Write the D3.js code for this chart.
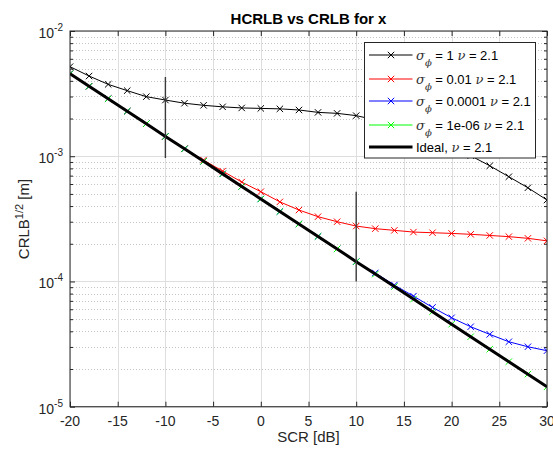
<!DOCTYPE html>
<html>
<head>
<meta charset="utf-8">
<script src="https://cdn.jsdelivr.net/npm/d3@7"></script>
<style>
  html, body { margin: 0; padding: 0; background: #fff; }
  svg { display: block; font-family: "Liberation Sans", Arial, Helvetica, sans-serif; }
</style>
</head>
<body>
<svg id="chart" width="553" height="452"></svg>
<script>
// ---------------- data ----------------
const scr = [-20,-18,-16,-14,-12,-10,-8,-6,-4,-2,0,2,4,6,8,10,12,14,16,18,20,22,24,26,28,30];

const sigma1 = [5.19e-3,4.37e-3,3.75e-3,3.34e-3,2.99e-3,2.81e-3,2.65e-3,2.55e-3,2.48e-3,2.43e-3,2.41e-3,2.39e-3,2.34e-3,2.24e-3,2.20e-3,2.11e-3,1.95e-3,1.79e-3,1.62e-3,1.41e-3,1.21e-3,1.01e-3,8.39e-4,6.86e-4,5.60e-4,4.47e-4];

const sigma001 = [4.56e-3,3.62e-3,2.88e-3,2.29e-3,1.82e-3,1.44e-3,1.15e-3,9.32e-4,7.61e-4,6.22e-4,5.21e-4,4.32e-4,3.72e-4,3.29e-4,3.00e-4,2.77e-4,2.64e-4,2.56e-4,2.48e-4,2.45e-4,2.42e-4,2.38e-4,2.33e-4,2.28e-4,2.21e-4,2.11e-4];

const sigma00001 = [4.56e-3,3.62e-3,2.88e-3,2.29e-3,1.82e-3,1.44e-3,1.145e-3,9.1e-4,7.23e-4,5.74e-4,4.56e-4,3.62e-4,2.88e-4,2.29e-4,1.82e-4,1.44e-4,1.17e-4,9.36e-5,7.64e-5,6.21e-5,5.13e-5,4.35e-5,3.78e-5,3.30e-5,3.01e-5,2.80e-5];

const sigma1e6 = [4.56e-3,3.62e-3,2.88e-3,2.29e-3,1.82e-3,1.44e-3,1.145e-3,9.1e-4,7.23e-4,5.74e-4,4.56e-4,3.62e-4,2.88e-4,2.29e-4,1.82e-4,1.44e-4,1.145e-4,9.1e-5,7.23e-5,5.74e-5,4.56e-5,3.62e-5,2.88e-5,2.29e-5,1.82e-5,1.44e-5];

const ideal = [4.56e-3,3.62e-3,2.88e-3,2.29e-3,1.82e-3,1.44e-3,1.145e-3,9.1e-4,7.23e-4,5.74e-4,4.56e-4,3.62e-4,2.88e-4,2.29e-4,1.82e-4,1.44e-4,1.145e-4,9.1e-5,7.23e-5,5.74e-5,4.56e-5,3.62e-5,2.88e-5,2.29e-5,1.82e-5,1.44e-5];

// vertical marker segments: [x, yLow, yHigh]
const vLines = [[-10, 9.7e-4, 4.3e-3], [10, 1.0e-4, 5.2e-4]];

const sigmaLabels = ["1", "0.01", "0.0001", "1e-06"];
const nuLabel = "2.1";
const seriesColors = ["#000000", "#ff0000", "#0000ff", "#00ff00"];

const xTicks = [-20,-15,-10,-5,0,5,10,15,20,25,30];
const yMajor = [1e-5,1e-4,1e-3,1e-2];
const yExp = [-5,-4,-3,-2];

const titleText = "HCRLB vs CRLB for x";
const xLabel = "SCR [dB]";

// ---------------- layout ----------------
const L = 70, R = 547, T = 31, B = 406.7;
const axisColor = "#262626";

const svg = d3.select("#chart");
const x = d3.scaleLinear().domain([-20, 30]).range([L, R]);
const y = d3.scaleLog().domain([1e-5, 1e-2]).range([B, T]);

const yMinor = [];
for (let e = -5; e < -2; e++) for (let k = 2; k <= 9; k++) yMinor.push(k * Math.pow(10, e));

svg.append("rect").attr("x", 0).attr("y", 0).attr("width", 553).attr("height", 452).attr("fill", "#fff");

// grid
const grid = svg.append("g");
grid.selectAll(".gym").data(yMinor).join("line")
  .attr("x1", L).attr("x2", R)
  .attr("y1", d => Math.round(y(d)) + 0.5).attr("y2", d => Math.round(y(d)) + 0.5)
  .attr("stroke", "#c4c4c4").attr("stroke-width", 1).attr("stroke-dasharray", "1,2");
grid.selectAll(".gx").data(xTicks).join("line")
  .attr("x1", d => Math.round(x(d)) + 0.5).attr("x2", d => Math.round(x(d)) + 0.5)
  .attr("y1", T).attr("y2", B)
  .attr("stroke", "#dedede").attr("stroke-width", 1);
grid.selectAll(".gyM").data(yMajor).join("line")
  .attr("x1", L).attr("x2", R)
  .attr("y1", d => Math.round(y(d)) + 0.5).attr("y2", d => Math.round(y(d)) + 0.5)
  .attr("stroke", "#dedede").attr("stroke-width", 1);

// axes (inward ticks)
function styleAxis(g) {
  g.select(".domain").remove();
  g.selectAll(".tick line").attr("stroke", axisColor);
  g.selectAll(".tick text").remove();
}
svg.append("g").attr("transform", `translate(0,${B})`)
  .call(d3.axisBottom(x).tickValues(xTicks).tickSize(-5).tickFormat("")).call(styleAxis);
svg.append("g").attr("transform", `translate(0,${T})`)
  .call(d3.axisTop(x).tickValues(xTicks).tickSize(-5).tickFormat("")).call(styleAxis);
svg.append("g").attr("transform", `translate(${L},0)`)
  .call(d3.axisLeft(y).tickValues(yMajor).tickSize(-5).tickFormat("")).call(styleAxis);
svg.append("g").attr("transform", `translate(${L},0)`)
  .call(d3.axisLeft(y).tickValues(yMinor).tickSize(-3).tickFormat("")).call(styleAxis);
svg.append("g").attr("transform", `translate(${R},0)`)
  .call(d3.axisRight(y).tickValues(yMajor).tickSize(-5).tickFormat("")).call(styleAxis);
svg.append("g").attr("transform", `translate(${R},0)`)
  .call(d3.axisRight(y).tickValues(yMinor).tickSize(-3).tickFormat("")).call(styleAxis);

// tick labels
svg.append("g").selectAll("text").data(xTicks).join("text")
  .attr("x", d => x(d)).attr("y", 426)
  .attr("text-anchor", "middle").attr("font-size", 14).attr("fill", axisColor)
  .text(d => d);
const yl = svg.append("g").selectAll("text").data(yMajor).join("text")
  .attr("x", 63).attr("y", d => y(d) + 7)
  .attr("text-anchor", "end").attr("font-size", 14).attr("fill", axisColor);
yl.append("tspan").text("10");
yl.append("tspan").attr("dy", -7).attr("font-size", 10).text((d, i) => String(yExp[i]));

// data lines
svg.append("clipPath").attr("id", "clip").append("rect")
  .attr("x", L).attr("y", T).attr("width", R - L).attr("height", B - T);
const plot = svg.append("g").attr("clip-path", "url(#clip)");
const line = d3.line().x(d => x(d[0])).y(d => y(d[1]));
const seriesData = [sigma1, sigma001, sigma00001, sigma1e6];

function xMarker(g, cx, cy, color) {
  const s = 3.2;
  g.append("path")
    .attr("d", `M${cx - s},${cy - s}L${cx + s},${cy + s}M${cx - s},${cy + s}L${cx + s},${cy - s}`)
    .attr("stroke", color).attr("stroke-width", 1).attr("fill", "none");
}

seriesData.forEach((vals, i) => {
  const pts = scr.map((s, j) => [s, vals[j]]);
  plot.append("path").datum(pts).attr("d", line)
    .attr("fill", "none").attr("stroke", seriesColors[i]).attr("stroke-width", 1);
  const mg = plot.append("g");
  pts.forEach(p => xMarker(mg, x(p[0]), y(p[1]), seriesColors[i]));
});

plot.append("path").datum(scr.map((s, j) => [s, ideal[j]])).attr("d", line)
  .attr("fill", "none").attr("stroke", "#000").attr("stroke-width", 3);

// vertical segments
plot.selectAll(".vl").data(vLines).join("line")
  .attr("x1", d => x(d[0])).attr("x2", d => x(d[0]))
  .attr("y1", d => y(d[1])).attr("y2", d => y(d[2]))
  .attr("stroke", "#3a3a3a").attr("stroke-width", 1.4);

// axes box
svg.append("rect").attr("x", L).attr("y", T).attr("width", R - L).attr("height", B - T)
  .attr("fill", "none").attr("stroke", axisColor).attr("stroke-width", 1);

// title & labels
svg.append("text").attr("x", (L + R) / 2).attr("y", 24).attr("text-anchor", "middle")
  .attr("font-size", 15).attr("font-weight", "bold").attr("fill", "#000").text(titleText);
svg.append("text").attr("x", (L + R) / 2).attr("y", 442).attr("text-anchor", "middle")
  .attr("font-size", 15).attr("fill", axisColor).text(xLabel);
const ylab = svg.append("text").attr("transform", `translate(29,219) rotate(-90)`)
  .attr("text-anchor", "middle").attr("font-size", 15).attr("fill", axisColor);
ylab.append("tspan").text("CRLB");
ylab.append("tspan").attr("dy", -6).attr("font-size", 11).text("1/2");
ylab.append("tspan").attr("dy", 6).text(" [m]");

// legend
const lg = svg.append("g");
lg.append("rect").attr("x", 364.5).attr("y", 42.5).attr("width", 171).attr("height", 115.5)
  .attr("fill", "#fff").attr("stroke", axisColor).attr("stroke-width", 1);
const rowY = [55, 79, 101, 125, 147];
const greek = "'DejaVu Serif', serif";
sigmaLabels.forEach((lab, i) => {
  const yy = rowY[i];
  lg.append("line").attr("x1", 369).attr("x2", 412.5).attr("y1", yy).attr("y2", yy)
    .attr("stroke", seriesColors[i]).attr("stroke-width", 1);
  xMarker(lg, 391, yy, seriesColors[i]);
  const t = lg.append("text").attr("x", 416).attr("y", yy + 4.5).attr("font-size", 13).attr("fill", "#000");
  t.append("tspan").attr("font-style", "italic").attr("font-family", greek).attr("fill", "#333").text("σ");
  t.append("tspan").attr("dy", 6).attr("font-style", "italic").attr("font-family", greek).attr("font-size", 10).attr("fill", "#333").text("ϕ");
  t.append("tspan").attr("dy", -6).text(" = " + lab + " ");
  t.append("tspan").attr("font-style", "italic").attr("font-family", greek).attr("fill", "#333").text("ν");
  t.append("tspan").text(" = " + nuLabel);
});
{
  const yy = rowY[4];
  lg.append("line").attr("x1", 369).attr("x2", 412.5).attr("y1", yy).attr("y2", yy)
    .attr("stroke", "#000").attr("stroke-width", 3);
  const t = lg.append("text").attr("x", 416).attr("y", yy + 4.5).attr("font-size", 13).attr("fill", "#000");
  t.append("tspan").text("Ideal, ");
  t.append("tspan").attr("font-style", "italic").attr("font-family", greek).attr("fill", "#333").text("ν");
  t.append("tspan").text(" = " + nuLabel);
}
</script>
</body>
</html>
